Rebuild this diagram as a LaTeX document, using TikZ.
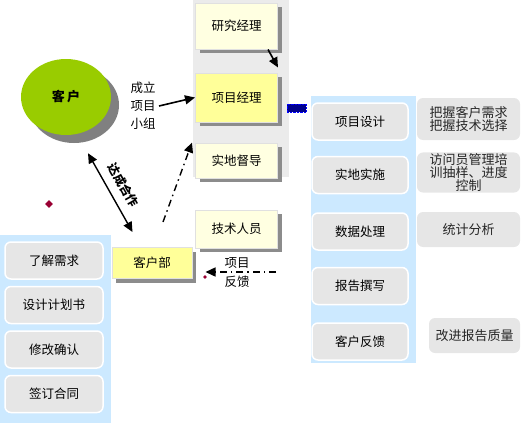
\documentclass[tikz,border=0pt]{standalone}
\usepackage{fontspec}
\newfontfamily\cjk{Noto Sans CJK SC}
\usepackage{xcolor}
\usepackage{tikz}
\usetikzlibrary{shapes.geometric, arrows.meta, positioning, calc, shadows}

\definecolor{cream}{HTML}{FFFFE1}
\definecolor{lemon}{HTML}{FFFF99}
\definecolor{leaf}{HTML}{99CC00}
\definecolor{skyblue}{HTML}{CCE9FF}
\definecolor{softgray}{HTML}{E6E6E6}
\definecolor{darkred}{HTML}{990033}

\begin{document}
\begin{tikzpicture}[
    x=1pt, y=1pt,
    font=\cjk\fontsize{12.5}{15}\selectfont,
    role/.style={rectangle, draw=black!12, line width=1pt, fill=#1, minimum width=82pt, align=center,
      drop shadow={shadow xshift=4pt, shadow yshift=-4pt, fill=black!45, opacity=1}},
    stage/.style={rectangle, draw=white, line width=1.5pt, fill=softgray, rounded corners=6pt, minimum height=37pt, align=center},
    note/.style={rectangle, fill=softgray, rounded corners=6pt, align=center, text=black!85,
      font=\cjk\fontsize{13}{13}\selectfont, inner sep=1pt},
    mark/.style={diamond, fill=darkred, inner sep=0pt, minimum size=#1},
    solidarrow/.style={-{Triangle[length=10pt, width=9pt]}, line width=1.6pt},
    dasharrow/.style={-{Triangle[length=10pt, width=9pt]}, line width=1.4pt,
      dash pattern=on 7pt off 4pt on 1.5pt off 4pt},
]
    \useasboundingbox (0,0) rectangle (522,-423);

    % Backdrops
    \fill[black!8] (193,0) rectangle (289,-177);
    \fill[skyblue] (0,-235) rectangle (111,-423);
    \fill[skyblue] (311,-96) rectangle (416,-363);

    % Client
    \fill[black!50] (74,-105) ellipse [x radius=45, y radius=38];
    \node[ellipse, fill=leaf, minimum width=90pt, minimum height=76pt, font=\cjk\bfseries\fontsize{13}{15}\selectfont] (kehu) at (66,-97) {客\,户};
    \node[align=center, font=\cjk\fontsize{12.5}{18}\selectfont] (chengli) at (143,-106) {成立\\项目\\小组};

    % Project team
    \node[role=cream, minimum height=46pt] (yjjl) at (236.5,-26) {研究经理};
    \node[role=lemon, minimum height=49pt] (xmjl) at (236.5,-97.5) {项目经理};
    \node[role=cream, minimum height=35pt] (sddd) at (236.5,-160.5) {实地督导};
    \node[role=cream, minimum height=38pt] (jsry) at (236.5,-229) {技术人员};
    \node[role=lemon, minimum width=80pt, minimum height=31pt] (khb) at (152,-263) {客户部};

    % Client department steps
    \node[stage, minimum width=98pt] (s1) at (54,-260.5) {了解需求};
    \node[stage, minimum width=98pt, below=6pt of s1] (s2) {设计计划书};
    \node[stage, minimum width=98pt, below=6pt of s2] (s3) {修改确认};
    \node[stage, minimum width=98pt, below=6pt of s3] (s4) {签订合同};

    % Project steps
    \node[stage, minimum width=96pt] (p1) at (360,-121.5) {项目设计};
    \node[stage, minimum width=96pt, below=15pt of p1] (p2) {实地实施};
    \node[stage, minimum width=96pt, below=18pt of p2] (p3) {数据处理};
    \node[stage, minimum width=96pt, below=16pt of p3] (p4) {报告撰写};
    \node[stage, minimum width=96pt, below=17pt of p4] (p5) {客户反馈};

    % Notes
    \node[note, minimum width=103pt, minimum height=42pt] (n1) at (468.5,-119) {把握客户需求\\把握技术选择};
    \node[note, minimum width=103pt, minimum height=39pt] (n2) at (468.5,-172.5) {访问员管理培\\训抽样、进度\\控制};
    \node[note, minimum width=103pt, minimum height=35pt] (n3) at (468.5,-229.5) {统计分析};
    \node[note, minimum width=91pt, minimum height=35pt] (n4) at (474.5,-335.5) {改进报告质量};

    % Small marks
    \node[rectangle, fill=blue!55!black, draw=blue, densely dotted, minimum width=19pt, minimum height=8pt, inner sep=0pt] (dots) at (296.5,-108) {};
    \node[mark=8pt] (m1) at (49,-204) {};
    \node[mark=4pt] (m2) at (205,-277) {};

    % Connections
    \draw[solidarrow] (chengli.east) -- (xmjl.west);
    \draw[solidarrow] ([xshift=-10pt]yjjl.south east) -- ([yshift=5pt]xmjl.north east);
    \draw[{Triangle[length=10pt, width=9pt]}-{Triangle[length=10pt, width=9pt]}, line width=1.4pt]
      ([xshift=22pt, yshift=-18pt]kehu.south) -- node[sloped, above=5pt, font=\cjk\bfseries\fontsize{12}{14}\selectfont] {达成合作} ([xshift=21pt, yshift=15pt]khb.north west);
    \draw[dasharrow] ([xshift=11pt, yshift=25pt]khb.north) -- ([xshift=-3pt]sddd.north west);

    % Feedback
    \coordinate (fb) at (276,-272);
    \draw[dasharrow] (fb) -- ([xshift=13pt, yshift=-9pt]khb.east);
    \node[above=0pt of fb, xshift=-39pt] (fb1) {项目};
    \node[below=0pt of fb, xshift=-39pt] (fb2) {反馈};
\end{tikzpicture}
\end{document}
